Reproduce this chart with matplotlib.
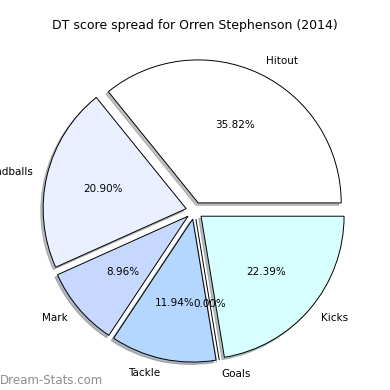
import matplotlib
matplotlib.use("Agg")
import matplotlib.pyplot as plt

labels = ["Hitout", "Handballs", "Mark", "Tackle", "Goals", "Kicks"]
shares = [35.82, 20.90, 8.96, 11.94, 0.00, 22.39]
colors = ["#ffffff", "#eaf0ff", "#c6d8ff", "#b4d6ff", "#b4d6ff", "#d8ffff"]
explode = [0.06] * len(labels)

fig = plt.figure(figsize=(3.9, 3.9), dpi=100)
fig.patch.set_facecolor("white")
ax = fig.add_axes([0, 0, 1, 1])

ax.pie(shares, labels=labels, colors=colors, explode=explode,
       autopct="%1.2f%%", startangle=0,
       shadow={"ox": -0.012, "oy": -0.012, "shade": 0.5},
       wedgeprops={"edgecolor": "black", "linewidth": 0.7},
       textprops={"fontsize": 7.5})

# place the pie like the original (centre ~ (193, 211) px, radius ~ 143 px)
ax.set_aspect("equal")
ax.set_xlim(-1.36, 1.367)
ax.set_ylim(-1.254, 1.473)
ax.axis("off")

fig.text(0.5, 0.935, "DT score spread for Orren Stephenson (2014)",
         ha="center", va="center", fontsize=9)
fig.text(0.0, 0.025, "Dream-Stats.com", ha="left", va="center",
         fontsize=8.5, color="#8c8c8c")

fig.savefig("out.png", dpi=100)
